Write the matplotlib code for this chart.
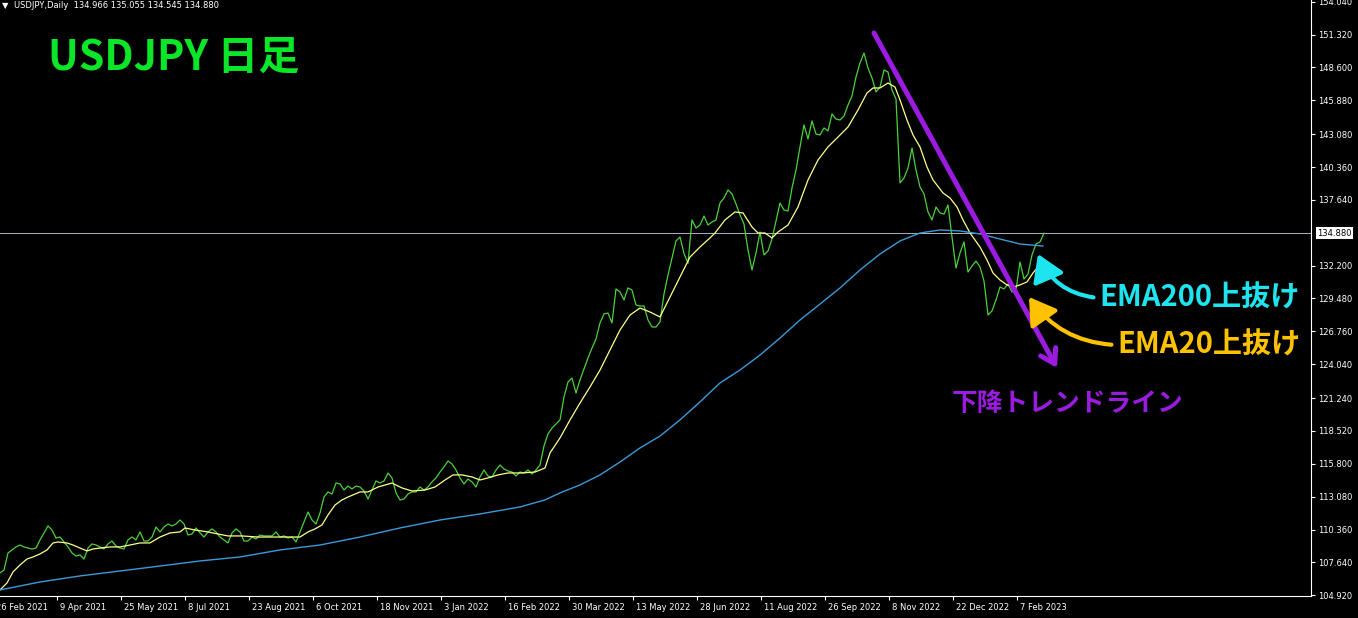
import numpy as np
import matplotlib.pyplot as plt
from matplotlib import transforms

# 終値 (2本ごとにチャートから読み取り)
close = [
    106.77, 107.01, 108.42, 108.67, 108.92, 109.08, 108.92, 108.83, 108.75, 108.83,
    109.50, 110.08, 110.66, 110.32, 109.66, 109.74, 109.33, 108.92, 108.42, 108.17,
    108.26, 107.92, 108.83, 109.17, 109.08, 108.92, 108.75, 109.17, 109.41, 109.00,
    108.83, 108.75, 109.50, 109.74, 109.50, 110.16, 109.41, 109.41, 109.74, 110.57,
    110.16, 110.57, 110.82, 110.66, 110.82, 111.15, 110.82, 109.91, 109.99, 110.49,
    110.08, 109.74, 110.16, 110.41, 110.16, 109.74, 109.50, 109.25, 110.08, 110.41,
    110.16, 109.41, 109.41, 109.74, 109.58, 109.91, 109.83, 109.83, 109.83, 110.16,
    109.74, 109.83, 109.66, 109.74, 109.33, 110.16, 110.99, 111.81, 111.15, 110.82,
    111.73, 113.05, 113.47, 113.30, 114.21, 114.13, 113.63, 113.96, 113.72, 113.96,
    113.88, 113.55, 112.89, 113.63, 114.38, 114.21, 114.38, 115.04, 114.63, 113.39,
    112.81, 112.89, 113.30, 113.47, 113.47, 113.88, 113.63, 113.88, 114.30, 114.63,
    115.12, 115.54, 116.03, 115.79, 115.29, 114.63, 114.13, 114.54, 114.30, 113.88,
    114.71, 115.29, 114.79, 114.71, 115.29, 115.70, 115.37, 115.21, 115.12, 114.79,
    115.12, 115.04, 115.29, 114.96, 115.29, 115.70, 117.28, 118.27, 118.76, 119.10,
    119.43, 121.33, 122.57, 122.90, 121.66, 122.74, 123.65, 124.56, 125.38, 126.13,
    127.45, 128.20, 128.28, 127.45, 130.27, 130.02, 129.36, 130.35, 130.18, 128.94,
    128.86, 128.86, 127.70, 127.12, 127.12, 127.54, 129.85, 131.42, 132.83, 134.24,
    134.57, 133.20, 132.40, 135.98, 135.31, 135.56, 136.31, 135.56, 135.81, 135.98,
    137.38, 137.80, 138.46, 138.13, 137.30, 136.39, 135.64, 133.49, 131.84, 133.25,
    134.98, 133.08, 133.41, 134.40, 135.89, 137.38, 136.80, 136.72, 138.62, 140.11,
    142.02, 143.84, 142.68, 144.17, 143.09, 143.01, 143.59, 143.34, 144.75, 144.33,
    144.25, 144.58, 145.49, 146.24, 147.81, 148.97, 149.79, 148.55, 147.73, 146.57,
    146.98, 148.39, 148.22, 146.73, 145.99, 139.04, 139.45, 140.28, 141.93, 140.11,
    138.71, 138.13, 136.64, 135.98, 137.05, 136.56, 136.47, 137.22, 134.57, 132.00,
    133.25, 134.16, 131.67, 132.17, 132.58, 132.09, 130.93, 128.11, 128.45, 129.36,
    130.43, 130.27, 130.68, 130.02, 130.18, 132.50, 131.09, 131.51, 133.08, 133.99,
    134.16, 134.88,
]
close_bar = np.arange(len(close)) * 2

# EMA20 (黄)
ema20_bar = [
    0, 3.5, 6.5, 10, 13.5, 16.5, 20, 23.5, 26.5, 29,
    33.5, 36.5, 40, 43.5, 46.5, 50, 55, 60, 65, 70,
    75, 80, 85, 90, 92.5, 97.5, 104, 109, 114, 121,
    129, 137.5, 146, 150, 154, 157.5, 161, 164, 167.5, 171,
    174, 180, 184, 189, 196, 201, 206, 212.5, 217.5, 222.5,
    226.5, 231, 236, 240, 244, 249, 254, 261, 267.5, 272.5,
    275, 280, 285, 290, 295, 300, 305, 310, 315, 320,
    325, 330, 335, 340, 345, 350, 355, 357.5, 362.5, 367.5,
    371.5, 376, 379, 382.5, 386, 389, 394, 399, 404, 409,
    414, 419, 424, 429, 433.5, 436.5, 440, 444, 447.5, 450,
    453.5, 456.5, 460, 463.5, 466.5, 471.5, 475, 478.5, 481.5, 485,
    490, 493.5, 496.5, 500, 503.5, 506.5, 510, 513.5, 516.5, 519,
    521.5,
]
ema20 = [
    105.36, 105.94, 106.85, 107.43, 107.92, 108.09, 108.34, 108.67, 109.25, 109.33,
    109.25, 109.08, 108.83, 108.59, 108.75, 108.83, 108.92, 108.92, 109.08, 109.25,
    109.25, 109.74, 110.08, 110.16, 110.49, 110.32, 110.16, 109.99, 109.83, 109.83,
    109.74, 109.74, 109.74, 109.74, 110.16, 110.41, 110.74, 111.57, 112.39, 112.81,
    113.05, 113.47, 113.47, 113.88, 114.21, 113.80, 113.55, 113.63, 113.88, 114.46,
    114.88, 114.88, 114.71, 114.46, 114.63, 114.88, 115.04, 115.04, 115.12, 115.45,
    116.70, 117.94, 119.43, 120.83, 122.16, 123.56, 125.22, 126.87, 128.11, 128.69,
    128.36, 127.95, 129.60, 131.26, 132.91, 133.74, 134.49, 134.90, 135.98, 136.64,
    136.56, 135.40, 134.90, 134.90, 134.49, 134.98, 135.56, 137.05, 139.29, 140.94,
    142.02, 142.84, 143.67, 145.08, 146.49, 146.90, 146.90, 147.31, 146.98, 145.91,
    144.25, 143.01, 142.02, 140.36, 139.29, 138.21, 137.80, 137.05, 135.98, 134.90,
    133.74, 132.67, 131.59, 131.01, 130.60, 130.43, 130.60, 130.85, 131.59, 132.09,
    132.50,
]

# EMA200 (青)
ema200_bar = [
    0, 20, 40, 60, 80, 100, 120, 140, 160, 180,
    200, 220, 240, 260, 272.5, 280, 290, 300, 310, 320,
    330, 340, 350, 360, 370, 380, 390, 400, 410, 420,
    430, 440, 450, 460, 470, 480, 490, 500, 510, 521.5,
]
ema200 = [
    105.36, 106.02, 106.52, 106.93, 107.34, 107.76, 108.09, 108.67, 109.08, 109.74,
    110.49, 111.15, 111.65, 112.23, 112.81, 113.39, 114.05, 114.88, 115.95, 117.11,
    118.10, 119.43, 120.92, 122.49, 123.56, 124.80, 126.21, 127.70, 129.02, 130.35,
    131.84, 133.16, 134.24, 134.90, 135.15, 135.07, 134.82, 134.40, 133.99, 133.82,
]

last_price = 134.88
header = "USDJPY,Daily  134.966 135.055 134.545 134.880"

price_ticks = [154.04, 151.32, 148.60, 145.88, 143.08, 140.36, 137.64, 132.20,
               129.48, 126.76, 124.04, 121.24, 118.52, 115.80, 113.08, 110.36,
               107.64, 104.92]
date_labels = ['26 Feb 2021', '9 Apr 2021', '25 May 2021', '8 Jul 2021',
               '23 Aug 2021', '6 Oct 2021', '18 Nov 2021', '3 Jan 2022',
               '16 Feb 2022', '30 Mar 2022', '13 May 2022', '28 Jun 2022',
               '11 Aug 2022', '26 Sep 2022', '8 Nov 2022', '22 Dec 2022',
               '7 Feb 2023']
date_bars = [-3.5, 28.5, 60.5, 92.5, 124.5, 156.5, 188.5, 220.5, 252.5,
             284.5, 316.5, 348.5, 380.5, 412.5, 444.5, 476.5, 508.5]

# 下降トレンドライン
trend_bar = [437, 528.5]
trend_price = [151.45, 123.73]

# 注釈
ema200_cross = (519, 133.16)
ema200_text = (549.5, 129.52)
ema20_cross = (514.5, 129.60)
ema20_text = (558.5, 125.63)
trend_text = (476, 120.75)

jp = ['Noto Sans CJK JP', 'DejaVu Sans']
purple = '#9B1BE0'
cyan = '#1DE4EE'
gold = '#FFC200'

fig = plt.figure(figsize=(13.58, 6.18), dpi=100, facecolor='black')
ax = fig.add_axes([0, 22 / 618, 1311 / 1358, 596 / 618])
ax.set_facecolor('black')
ax.set_xlim(0, 655.5)
ax.set_ylim(104.86, 154.18)

ax.axhline(last_price, color='#a8b4c4', lw=0.7, zorder=1)
ax.plot(close_bar, close, color='#4cd03c', lw=0.9, zorder=2)
ax.plot(ema20_bar, ema20, color='#ffff8c', lw=0.9, zorder=3)
ax.plot(ema200_bar, ema200, color='#3b9ad9', lw=1.0, zorder=3)

# トレンドライン (矢印付き)
ax.annotate('', xy=(trend_bar[1], trend_price[1]), xytext=(trend_bar[0], trend_price[0]),
            arrowprops=dict(arrowstyle='->,head_length=0.45,head_width=0.28',
                            color=purple, lw=3.6, mutation_scale=22,
                            shrinkA=0, shrinkB=0), zorder=5)

ax.annotate('EMA200上抜け', xy=ema200_cross, xytext=ema200_text,
            color=cyan, fontsize=21, fontweight='bold', family=jp,
            ha='left', va='center',
            arrowprops=dict(arrowstyle='-|>,head_length=0.8,head_width=0.5',
                            connectionstyle='arc3,rad=-0.3', color=cyan, lw=3,
                            mutation_scale=20, shrinkB=0, relpos=(0, 0.5)),
            zorder=6)
ax.annotate('EMA20上抜け', xy=ema20_cross, xytext=ema20_text,
            color=gold, fontsize=21, fontweight='bold', family=jp,
            ha='left', va='center',
            arrowprops=dict(arrowstyle='-|>,head_length=0.8,head_width=0.5',
                            connectionstyle='arc3,rad=-0.25', color=gold, lw=3,
                            mutation_scale=20, shrinkB=0, relpos=(0, 0.5)),
            zorder=6)
ax.text(trend_text[0], trend_text[1], '下降トレンドライン', color=purple,
        fontsize=18.5, fontweight='bold', family=jp, ha='left', va='center')

ax.text(48 / 1311, 1 - 58 / 596, 'USDJPY 日足', transform=ax.transAxes,
        color='#0AE628', fontsize=29.5, fontweight='bold', family=jp,
        ha='left', va='center')

# 軸
for side in ['left', 'top']:
    ax.spines[side].set_visible(False)
for side in ['right', 'bottom']:
    ax.spines[side].set_color('white')
    ax.spines[side].set_linewidth(0.8)

ax.yaxis.tick_right()
ax.set_yticks(price_ticks, ['%.3f' % v for v in price_ticks])
ax.set_xticks(date_bars[1:], date_labels[1:])
ax.tick_params(colors='white', length=3, width=0.8, labelsize=6)
ax.tick_params(axis='y', pad=2)
ax.tick_params(axis='x', pad=2)
shift = transforms.ScaledTranslation(3 / 100, 0, fig.dpi_scale_trans)
for lab in ax.get_xticklabels():
    lab.set_ha('left')
    lab.set_transform(lab.get_transform() + shift)

# 左端で切れる最初の日付ラベル
first = ax.text(date_bars[0], 0, date_labels[0],
                transform=transforms.blended_transform_factory(ax.transData, ax.transAxes) + shift,
                color='white', fontsize=6, ha='left', va='top', clip_on=False)
first.set_y(-0.012)

# 現在値ラベル
ax.text(1.0, last_price, '%.3f' % last_price,
        transform=transforms.blended_transform_factory(ax.transAxes, ax.transData)
        + transforms.ScaledTranslation(6 / 100, 0, fig.dpi_scale_trans),
        color='black', fontsize=6, ha='left', va='center', clip_on=False,
        bbox=dict(boxstyle='square,pad=0.15', facecolor='white', edgecolor='none'))

fig.text(2 / 1358, 1 - 6 / 618, '▼', color='white', fontsize=6, va='center')
fig.text(14 / 1358, 1 - 6 / 618, header, color='white', fontsize=6, va='center')

fig.savefig('out.png', dpi=100, facecolor='black')
